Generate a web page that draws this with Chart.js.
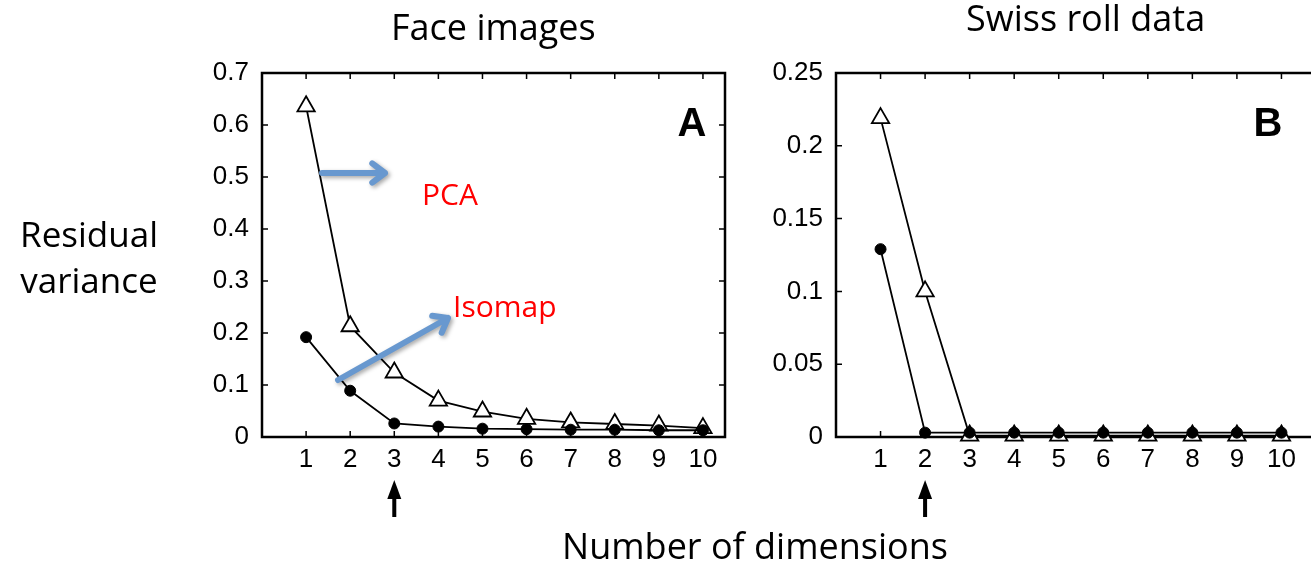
<!DOCTYPE html>
<html>
<head>
<meta charset="utf-8">
<script src="https://cdn.jsdelivr.net/npm/chart.js@4.4.1/dist/chart.umd.min.js"></script>
<style>
  html, body { margin: 0; padding: 0; background: #fff; }
  body { width: 1311px; height: 575px; overflow: hidden; position: relative; }
  .txt { position: absolute; font-family: "Open Sans", sans-serif; line-height: 1; color: #000; white-space: nowrap; }
  #faceBox { position: absolute; left: 0; top: 0; }
  #swissBox { position: absolute; left: 760px; top: 0; }
</style>
</head>
<body>
<div id="faceBox"><canvas id="FaceChart" width="760" height="575"></canvas></div>
<div id="swissBox"><canvas id="SwissChart" width="580" height="575"></canvas></div>

<div class="txt" style="font-size:36px; left:391px; width:200px; text-align:center; top:9px;">Face images</div>
<div class="txt" style="font-size:36px; left:966px; width:200px; text-align:center; top:0px;">Swiss roll data</div>
<div class="txt" style="font-size:35px; left:0px; width:178px; text-align:center; top:216px;">Residual</div>
<div class="txt" style="font-size:35px; left:0px; width:178px; text-align:center; top:262px;">variance</div>
<div class="txt" style="font-size:36px; left:555px; width:400px; text-align:center; top:528px;">Number of dimensions</div>

<script>
    // number of dimensions (x values)
    var dims = [1, 2, 3, 4, 5, 6, 7, 8, 9, 10];

    // A: face images
    var facePca = [0.636, 0.213, 0.124, 0.070, 0.049, 0.035, 0.028, 0.025, 0.022, 0.017];
    var faceIsomap = [0.192, 0.089, 0.026, 0.020, 0.016, 0.015, 0.014, 0.014, 0.013, 0.013];

    // B: swiss roll data
    var swissPca = [0.219, 0.100, 0.001, 0.001, 0.001, 0.001, 0.001, 0.001, 0.001, 0.001];
    var swissIsomap = [0.129, 0.003, 0.003, 0.003, 0.003, 0.003, 0.003, 0.003, 0.003, 0.003];

    // tick labels
    var xTicks = [1, 2, 3, 4, 5, 6, 7, 8, 9, 10];
    var faceYTicks = [0, 0.1, 0.2, 0.3, 0.4, 0.5, 0.6, 0.7];
    var swissYTicks = [0, 0.05, 0.1, 0.15, 0.2, 0.25];

    function pts(ys) {
        return dims.map(function (d, i) { return { x: d, y: ys[i] }; });
    }

    function makeDatasets(pca, iso) {
        return [{
            label: 'Isomap',
            data: pts(iso),
            borderColor: '#000',
            borderWidth: 1.8,
            pointStyle: 'circle',
            pointRadius: 5.5,
            pointBackgroundColor: '#000',
            pointBorderColor: '#000',
            pointBorderWidth: 1,
            clip: false
        }, {
            label: 'PCA',
            data: pts(pca),
            borderColor: '#000',
            borderWidth: 1.8,
            pointStyle: 'triangle',
            pointRadius: 10,
            pointBackgroundColor: '#fff',
            pointBorderColor: '#000',
            pointBorderWidth: 1.8,
            clip: false
        }];
    }

    // box around the plot with inward tick marks
    var boxPlugin = {
        id: 'box',
        beforeDatasetsDraw: function (chart) {
            var ctx = chart.ctx, a = chart.chartArea, x = chart.scales.x, y = chart.scales.y;
            ctx.save();
            ctx.strokeStyle = '#000';
            ctx.lineWidth = 1.5;
            ctx.beginPath();
            x.ticks.forEach(function (t) {
                var px = x.getPixelForValue(t.value);
                ctx.moveTo(px, a.bottom); ctx.lineTo(px, a.bottom - 6);
                ctx.moveTo(px, a.top); ctx.lineTo(px, a.top + 6);
            });
            y.ticks.forEach(function (t) {
                var py = y.getPixelForValue(t.value);
                ctx.moveTo(a.left, py); ctx.lineTo(a.left + 6, py);
                ctx.moveTo(a.right, py); ctx.lineTo(a.right - 6, py);
            });
            ctx.stroke();
            ctx.lineWidth = 2.5;
            ctx.strokeRect(a.left, a.top, a.right - a.left, a.bottom - a.top);
            ctx.restore();
        }
    };

    function blueArrow(ctx, x1, y1, x2, y2) {
        var ang = Math.atan2(y2 - y1, x2 - x1), h = 16;
        ctx.save();
        ctx.strokeStyle = 'rgb(104, 152, 207)';
        ctx.lineWidth = 6;
        ctx.lineCap = 'round';
        ctx.lineJoin = 'round';
        ctx.shadowColor = 'rgba(0,0,0,0.35)';
        ctx.shadowBlur = 4;
        ctx.shadowOffsetX = 2;
        ctx.shadowOffsetY = 2;
        ctx.beginPath();
        ctx.moveTo(x1, y1); ctx.lineTo(x2, y2);
        ctx.moveTo(x2 - h * Math.cos(ang - 0.65), y2 - h * Math.sin(ang - 0.65));
        ctx.lineTo(x2, y2);
        ctx.lineTo(x2 - h * Math.cos(ang + 0.65), y2 - h * Math.sin(ang + 0.65));
        ctx.stroke();
        ctx.restore();
    }

    function upArrow(ctx, px, tip, tail) {
        ctx.save();
        ctx.fillStyle = '#000';
        ctx.beginPath();
        ctx.moveTo(px, tip);
        ctx.lineTo(px + 7, tip + 19);
        ctx.lineTo(px - 7, tip + 19);
        ctx.closePath();
        ctx.fill();
        ctx.fillRect(px - 2, tip + 17, 4, tail - tip - 17);
        ctx.restore();
    }

    function panelLetter(ctx, s, cx, base) {
        ctx.save();
        ctx.fillStyle = '#000';
        ctx.font = 'bold 40px "Liberation Sans", Arial, sans-serif';
        ctx.textAlign = 'center';
        ctx.textBaseline = 'alphabetic';
        ctx.fillText(s, cx, base);
        ctx.restore();
    }

    var faceNotes = {
        id: 'faceNotes',
        afterDraw: function (chart) {
            var ctx = chart.ctx, a = chart.chartArea, x = chart.scales.x;
            panelLetter(ctx, 'A', a.left + 430, a.top + 63);
            blueArrow(ctx, a.left + 60, a.top + 100, a.left + 123, a.top + 100);
            blueArrow(ctx, a.left + 76, a.top + 307, a.left + 186, a.top + 245);
            ctx.save();
            ctx.fillStyle = '#ff0000';
            ctx.font = '30px "Open Sans", sans-serif';
            ctx.textBaseline = 'alphabetic';
            ctx.fillText('PCA', a.left + 160, a.top + 132);
            ctx.fillText('Isomap', a.left + 191, a.top + 244);
            ctx.restore();
            upArrow(ctx, x.getPixelForValue(3), a.bottom + 43, a.bottom + 80);
        }
    };

    var swissNotes = {
        id: 'swissNotes',
        afterDraw: function (chart) {
            var ctx = chart.ctx, a = chart.chartArea, x = chart.scales.x;
            panelLetter(ctx, 'B', a.left + 432, a.top + 63);
            upArrow(ctx, x.getPixelForValue(2), a.bottom + 43, a.bottom + 80);
        }
    };

    var tickFont = { family: '"Liberation Sans", Arial, sans-serif', size: 26 };

    function makeOptions(yTicks, yMax, xMax, pad) {
        return {
            responsive: false,
            animation: false,
            layout: { padding: pad },
            plugins: { legend: { display: false }, tooltip: { enabled: false } },
            scales: {
                x: {
                    type: 'linear',
                    min: 0,
                    max: xMax,
                    grid: { display: false },
                    border: { display: false },
                    afterBuildTicks: function (s) { s.ticks = xTicks.map(function (v) { return { value: v }; }); },
                    afterFit: function (s) { s.height = 40; },
                    ticks: { color: '#000', font: tickFont, padding: -1, maxRotation: 0,
                        callback: function (v) { return String(v); } }
                },
                y: {
                    type: 'linear',
                    min: 0,
                    max: yMax,
                    grid: { display: false },
                    border: { display: false },
                    afterBuildTicks: function (s) { s.ticks = yTicks.map(function (v) { return { value: v }; }); },
                    afterFit: function (s) { s.width = 72; },
                    ticks: { color: '#000', font: tickFont, padding: 5,
                        callback: function (v) { return String(Math.round(v * 100) / 100); } }
                }
            }
        };
    }

    new Chart(document.getElementById('FaceChart').getContext('2d'), {
        type: 'line',
        data: { datasets: makeDatasets(facePca, faceIsomap) },
        options: makeOptions(faceYTicks, 0.7, 10.5, { left: 190, right: 35, top: 73, bottom: 98 }),
        plugins: [boxPlugin, faceNotes]
    });

    new Chart(document.getElementById('SwissChart').getContext('2d'), {
        type: 'line',
        data: { datasets: makeDatasets(swissPca, swissIsomap) },
        options: makeOptions(swissYTicks, 0.25, 11, { left: 4, right: 14, top: 73, bottom: 98 }),
        plugins: [boxPlugin, swissNotes]
    });
</script>
</body>
</html>
